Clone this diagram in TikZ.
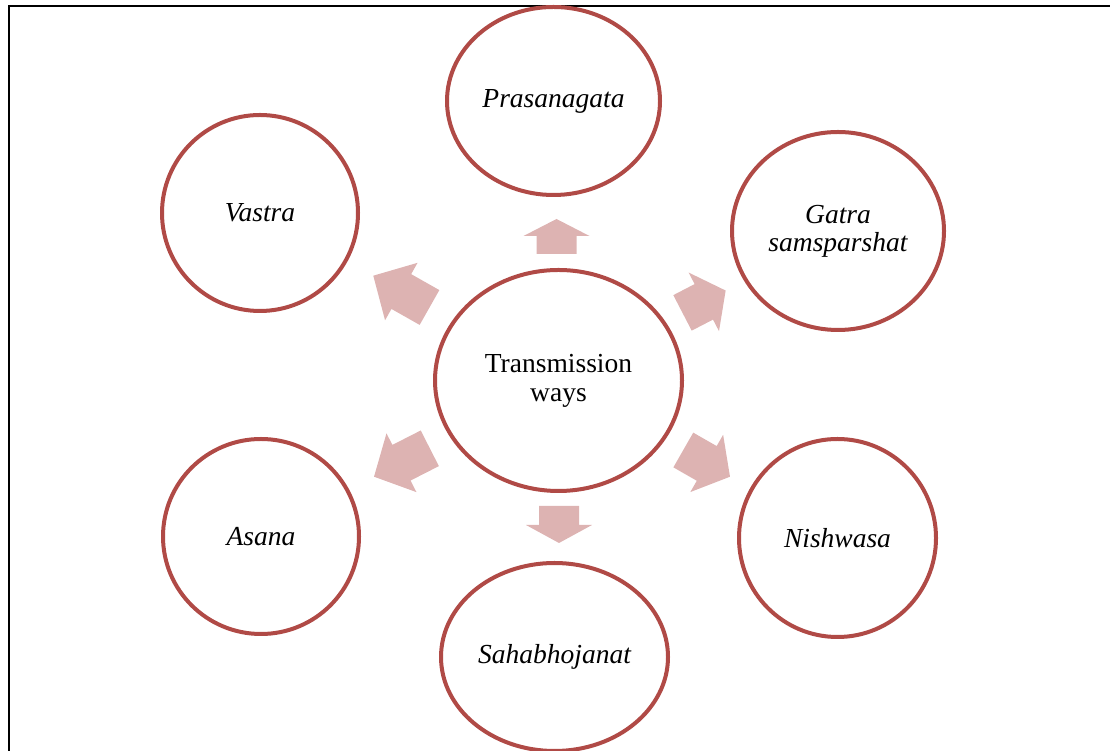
\documentclass[tikz,border=0pt]{standalone}
\usepackage{fontspec}
\setmainfont{Liberation Serif}
\usetikzlibrary{shapes.geometric}
\definecolor{ringred}{RGB}{176,74,70}
\definecolor{arrowpink}{RGB}{221,179,178}
\begin{document}
\begin{tikzpicture}[x=1pt,y=1pt,
  ring/.style={ellipse, draw=ringred, line width=4pt, fill=white, inner sep=0pt, align=center,
    font=\fontsize{27.5}{29}\selectfont},
  outerring/.style={ring, font=\fontsize{27.5}{28}\selectfont\itshape},
  pics/barrow/.style 2 args={code={
    \fill[arrowpink] (0,-20) -- (#1,-20) -- (#1,-33) -- ({#1+#2},0) -- (#1,33) -- (#1,20) -- (0,20) -- cycle;}}]
\useasboundingbox (0,0) rectangle (1110,751);
\clip (0,0) rectangle (1110,751);
% frame
\draw[line width=2pt] (9,-2) -- (9,745) -- (1112,745);
% nodes
\node[ring, minimum width=247, minimum height=221] (c) at (558.5,370.5) {Transmission\\ways};
\node[outerring, minimum width=213, minimum height=188] (pr) at (553.5,650) {Prasanagata};
\node[outerring, minimum width=212, minimum height=198] (ga) at (838,520) {Gatra\\samsparshat};
\node[outerring, minimum width=197, minimum height=198] (ni) at (837.5,213) {Nishwasa};
\node[outerring, minimum width=196, minimum height=196] (va) at (260,538) {Vastra};
\node[outerring, minimum width=196, minimum height=195] (as) at (261,214.5) {Asana};
\node[outerring, minimum width=227, minimum height=188] (sa) at (554.5,94) {Sahabhojanat};
% block arrows
\pic[rotate=90]    at (556.5,497)   {barrow={18}{17}};
\pic[rotate=-90]   at (559,245)     {barrow={19}{18}};
\pic[rotate=150.5] at (429.5,443.5) {barrow={32.4}{32.2}};
\pic[rotate=27.4]  at (682.5,438.1) {barrow={24}{24.6}};
\pic[rotate=207]   at (429.8,302.7) {barrow={31.8}{30.8}};
\pic[rotate=-29.8] at (683.3,301)   {barrow={27}{26.8}};
\end{tikzpicture}
\end{document}
